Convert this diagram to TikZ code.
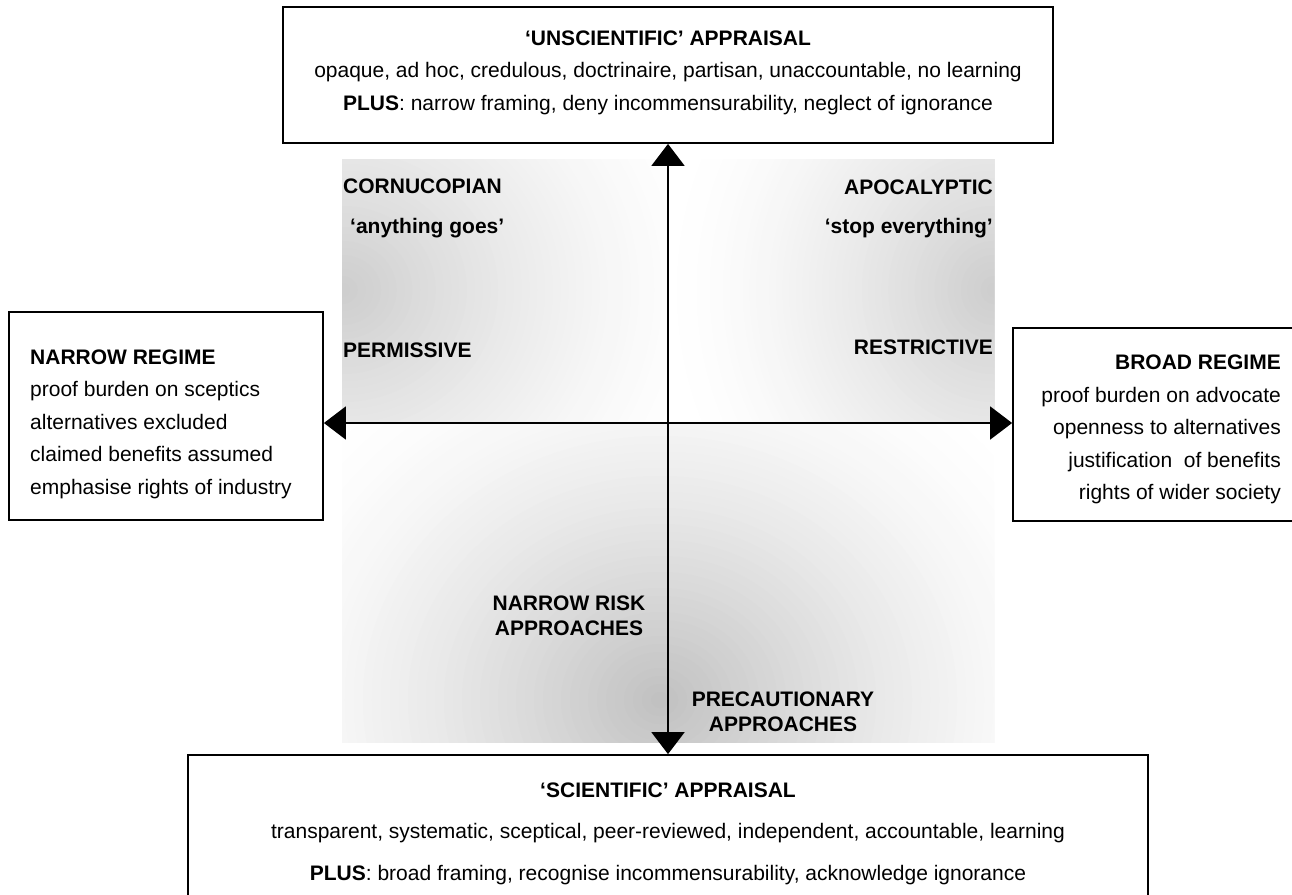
\documentclass[tikz,border=0pt]{standalone}
\usepackage{fontspec}
\setmainfont{Liberation Sans}
\usetikzlibrary{arrows.meta,positioning}

\begin{document}
\begin{tikzpicture}[
  x=1pt,y=-1pt,
  box/.style={rectangle,draw,line width=1.8pt,inner sep=0pt},
  boxtext/.style={inner sep=0pt,font=\fontsize{21}{32.5}\selectfont},
  quad/.style={inner sep=0pt,font=\fontsize{21}{25}\selectfont\bfseries},
  axis/.style={line width=2pt,{Triangle[width=33pt,length=22pt]}-{Triangle[width=33pt,length=22pt]}}]

  \useasboundingbox (0,0) rectangle (1292,894);

  % grey background of the quadrants
  \begin{scope}
    \clip (342,159) rectangle (668,423);
    \foreach \i [evaluate=\i as \p using 20*(\i/50)^1.5,
                 evaluate=\i as \rx using 390*(1-\i/50),
                 evaluate=\i as \ry using 350*(1-\i/50)] in {0,...,49}
      \fill[black!\p] (342,290) ellipse (\rx pt and \ry pt);
  \end{scope}
  \begin{scope}
    \clip (668,159) rectangle (994,423);
    \foreach \i [evaluate=\i as \p using 20*(\i/50)^1.5,
                 evaluate=\i as \rx using 330*(1-\i/50),
                 evaluate=\i as \ry using 350*(1-\i/50)] in {0,...,49}
      \fill[black!\p] (994,290) ellipse (\rx pt and \ry pt);
  \end{scope}
  \begin{scope}
    \clip (342,423) rectangle (994,742);
    \foreach \i [evaluate=\i as \p using 25*(\i/50)^1.5,
                 evaluate=\i as \rx using 450*(1-\i/50),
                 evaluate=\i as \ry using 400*(1-\i/50)] in {0,...,49}
      \fill[black!\p] (660,700) ellipse (\rx pt and \ry pt);
  \end{scope}

  % boxes
  \node[box,minimum width=770pt,minimum height=136pt] (unsci) at (668,75) {};
  \node[box,minimum width=314pt,minimum height=208pt] (narrow) at (166,416) {};
  \node[box,minimum width=297pt,minimum height=193pt] (broad) at (1161.5,424.5) {};
  \node[box,minimum width=960pt,minimum height=155pt] (sci) at (668,832.5) {};

  \node[boxtext,align=center] (unscitxt) at (668,72.5)
    {\textbf{`UNSCIENTIFIC' APPRAISAL}\\
     opaque, ad hoc, credulous, doctrinaire, partisan, unaccountable, no learning\\
     \textbf{PLUS}: narrow framing, deny incommensurability, neglect of ignorance};
  \node[boxtext,align=left,anchor=west] (narrowtxt) at (30,424)
    {\textbf{NARROW REGIME}\\
     proof burden on sceptics\\
     alternatives excluded\\
     claimed benefits assumed\\
     emphasise rights of industry};
  \node[boxtext,align=right,anchor=east] (broadtxt) at (1281,429.5)
    {\textbf{BROAD REGIME}\\
     proof burden on advocate\\
     openness to alternatives\\
     justification~ of benefits\\
     rights of wider society};
  \node[boxtext,align=center,font=\fontsize{21}{41.5}\selectfont] (scitxt) at (668,833.5)
    {\textbf{`SCIENTIFIC' APPRAISAL}\\
     transparent, systematic, sceptical, peer-reviewed, independent, accountable, learning\\
     \textbf{PLUS}: broad framing, recognise incommensurability, acknowledge ignorance};

  % quadrant labels
  \node[quad,anchor=west] (cornu) at (343,186) {CORNUCOPIAN};
  \node[quad,anchor=west] (anything) at (350,228) {`anything goes'};
  \node[quad,anchor=west] (permissive) at (343,350) {PERMISSIVE};
  \node[quad,anchor=east] (apoc) at (993,187) {APOCALYPTIC};
  \node[quad,anchor=east] (stopall) at (993,228) {`stop everything'};
  \node[quad,anchor=east] (restrictive) at (993,347) {RESTRICTIVE};
  \node[quad,align=center] (narrowrisk) at (569,616) {NARROW RISK\\APPROACHES};
  \node[quad,align=center] (precaution) at (783,712) {PRECAUTIONARY\\APPROACHES};

  % axes
  \coordinate (o) at (668,423);
  \draw[axis] (o -| narrow.east) -- (o -| broad.west);
  \draw[axis] (unsci.south) -- (sci.north);
\end{tikzpicture}
\end{document}
